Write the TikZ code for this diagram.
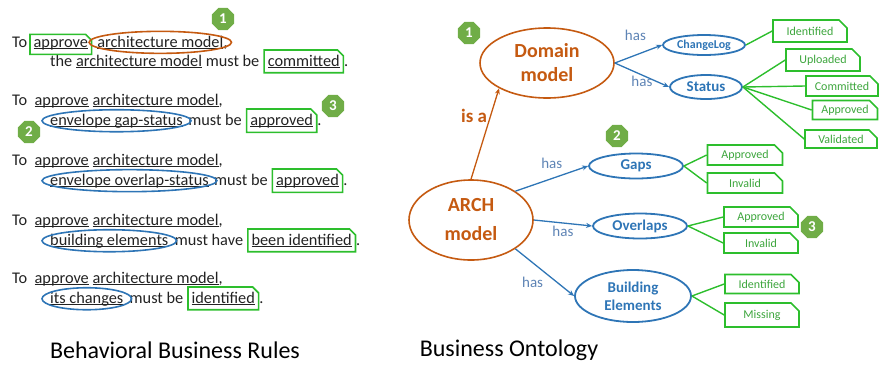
\documentclass[tikz,border=0pt]{standalone}
\usepackage{fontspec}
\setmainfont{Carlito}
\usetikzlibrary{positioning,shapes.geometric,shapes.misc,calc,fit,arrows.meta}

\newsavebox\uwordbox
\newcommand\uword[1]{\sbox\uwordbox{#1}\rlap{\rule[-2pt]{\wd\uwordbox}{0.6pt}}\usebox\uwordbox}

\definecolor{archorange}{HTML}{C55A11}
\definecolor{ontoblue}{HTML}{2E75B6}
\definecolor{hasblue}{HTML}{5E84B5}
\definecolor{tagline}{RGB}{45,190,45}
\definecolor{tagtext}{RGB}{60,165,60}
\definecolor{badgegreen}{HTML}{70AD47}
\definecolor{ruletext}{HTML}{222222}

\tikzset{
	word/.style={inner sep=0pt, text=ruletext, font=\fontsize{16.3}{19}\selectfont},
	tag/.style={
		chamfered rectangle,
		chamfered rectangle corners=north east,
		chamfered rectangle xsep=3pt,
		chamfered rectangle ysep=3pt,
		draw=tagline, line width=1.6pt, inner xsep=0.5pt, inner ysep=1.5pt
	},
	ring/.style={line width=1.6pt},
	dom/.style={
		ellipse, draw=archorange, line width=1.6pt, text=archorange,
		font=\bfseries\fontsize{20}{24}\selectfont, align=center, inner sep=0pt,
		minimum width=134, minimum height=70
	},
	concept/.style={
		ellipse, draw=ontoblue, line width=1.8pt, text=ontoblue,
		font=\bfseries\fontsize{15}{18}\selectfont, align=center, inner sep=0pt
	},
	state/.style={
		chamfered rectangle,
		chamfered rectangle corners=north east,
		chamfered rectangle xsep=4pt,
		chamfered rectangle ysep=4pt,
		draw=tagline, line width=1.6pt, text=tagtext,
		font=\fontsize{12}{14}\selectfont,
		minimum width=72, minimum height=20, inner sep=0pt
	},
	badge/.style={
		regular polygon, regular polygon sides=8, minimum size=24, inner sep=0pt,
		fill=badgegreen, text=white, font=\bfseries\fontsize{15}{15}\selectfont
	},
	hasarrow/.style={draw=ontoblue, line width=1.3pt, -{Stealth[length=6pt,width=5pt]}},
	haslabel/.style={text=hasblue, font=\fontsize{15}{18}\selectfont, inner sep=1pt},
	stateline/.style={draw=tagline, line width=1.4pt},
	caption/.style={text=black, font=\fontsize{24}{28}\selectfont}
}

\begin{document}
\begin{tikzpicture}[x=1pt, y=-1pt]
	\useasboundingbox (0,0) rectangle (880,365);

	% behavioral rules
	\node[word, anchor=base west] (r1to) at (12,47) {To};
	\node[word, base right=6pt of r1to] (r1act) {\uword{approve}};
	\node[word, base right=9pt of r1act] (r1obj) {\uword{architecture model}};
	\node[word, base right=0pt of r1obj] (r1cm) {,};
	\node[word, anchor=base west] (r1b) at (50,66) {the \uword{architecture model} must be};
	\node[word, base right=8pt of r1b] (r1st) {\uword{committed}};
	\node[word, base right=4pt of r1st] (r1dot) {.};

	\foreach \y in {105,165,225,283}
		\node[word, anchor=base west] (head\y) at (12,\y) {To\ \ \uword{approve} \uword{architecture model},};

	\node[word, anchor=base west] (r2obj) at (50,125) {\uword{envelope gap-status}};
	\node[word, base right=5pt of r2obj] (r2must) {must be};
	\node[word, base right=8pt of r2must] (r2st) {\uword{approved}};
	\node[word, base right=4pt of r2st] (r2dot) {.};

	\node[word, anchor=base west] (r3obj) at (50,185) {\uword{envelope overlap-status}};
	\node[word, base right=5pt of r3obj] (r3must) {must be};
	\node[word, base right=8pt of r3must] (r3st) {\uword{approved}};
	\node[word, base right=4pt of r3st] (r3dot) {.};

	\node[word, anchor=base west] (r4obj) at (50,245) {\uword{building elements}};
	\node[word, base right=6pt of r4obj] (r4must) {must have};
	\node[word, base right=8pt of r4must] (r4st) {\uword{been identified}};
	\node[word, base right=4pt of r4st] (r4dot) {.};

	\node[word, anchor=base west] (r5obj) at (50,303) {\uword{its changes}};
	\node[word, base right=6pt of r5obj] (r5must) {must be};
	\node[word, base right=8pt of r5must] (r5st) {\uword{identified}};
	\node[word, base right=4pt of r5st] (r5dot) {.};

	\foreach \w in {r1act,r1st,r2st,r3st,r4st,r5st}
		\node[tag, fit=(\w)] (\w-tag) {};
	\foreach \w/\c in {r1obj/archorange,r2obj/ontoblue,r3obj/ontoblue,r4obj/ontoblue,r5obj/ontoblue}
		\draw[ring, draw=\c] let \p1=($(\w.east)-(\w.west)$) in (\w.center) ellipse [x radius=0.5*\x1+8pt, y radius=11pt];

	\node[badge] (b1rule) at (223,19) {1};
	\node[badge] (b2rule) at (29,132) {2};
	\node[badge] (b3rule) at (333,106) {3};

	\node[caption] (rulescap) at (175,350) {Behavioral Business Rules};

	% business ontology
	\node[dom] (domain) at (547,63) {Domain\\model};
	\node[dom, minimum width=124, minimum height=80] (arch) at (471,220) {ARCH\\[5pt]model};

	\node[concept, minimum width=82, minimum height=20, font=\bfseries\fontsize{12}{14}\selectfont] (changelog) at (704,45) {ChangeLog};
	\node[concept, minimum width=72, minimum height=24] (status) at (706,87) {Status};
	\node[concept, minimum width=94, minimum height=25] (gaps) at (636,166) {Gaps};
	\node[concept, minimum width=94, minimum height=25] (overlaps) at (640,226) {Overlaps};
	\node[concept, minimum width=116, minimum height=52] (building) at (633,296) {Building\\Elements};

	\draw[hasarrow, draw=archorange] (arch.north) -- (domain.south west)
		node[pos=0.7, left=2pt, text=archorange, font=\bfseries\fontsize{19}{22}\selectfont, inner sep=1pt] (isa) {is a};
	\draw[hasarrow] (domain.east) -- (changelog.west) node[midway, above=12pt, xshift=-3pt, haslabel] (has1) {has};
	\draw[hasarrow] (domain.east) -- (status.west) node[midway, below=-1pt, haslabel] (has2) {has};
	\draw[hasarrow] (arch.north east) -- (gaps.west) node[midway, above=8pt, haslabel] (has3) {has};
	\draw[hasarrow] (arch.east) -- (overlaps.west) node[midway, below=1pt, haslabel] (has4) {has};
	\draw[hasarrow] (arch.south east) -- (building.west) node[midway, below left=3pt and 0pt, haslabel] (has5) {has};

	\node[state, minimum width=74, minimum height=22] (clident) at (810,31) {Identified};
	\node[state, minimum width=74, minimum height=22] (stupl) at (823,60) {Uploaded};
	\node[state] (stcom) at (842,86) {Committed};
	\node[state, minimum width=65, minimum height=19] (stapp) at (845,110) {Approved};
	\node[state, minimum height=18] (stval) at (841,139) {Validated};
	\node[state, minimum width=75] (gpapp) at (745,155) {Approved};
	\node[state, minimum width=75] (gpinv) at (745,183) {Invalid};
	\node[state, minimum width=74] (ovapp) at (761,217) {Approved};
	\node[state, minimum width=74] (ovinv) at (761,243) {Invalid};
	\node[state, minimum width=74, minimum height=19] (beide) at (762,284) {Identified};
	\node[state, minimum width=74, minimum height=24] (bemis) at (762,315) {Missing};

	\draw[stateline] (changelog.east) -- (clident.west);
	\foreach \t in {stupl,stcom,stapp,stval}
		\draw[stateline] (status.east) -- (\t.west);
	\foreach \t in {gpapp,gpinv}
		\draw[stateline] (gaps.east) -- (\t.west);
	\foreach \t in {ovapp,ovinv}
		\draw[stateline] (overlaps.east) -- (\t.west);
	\foreach \t in {beide,bemis}
		\draw[stateline] (building.east) -- (\t.west);

	\node[badge] (b1onto) at (469,33) {1};
	\node[badge] (b2onto) at (617,136) {2};
	\node[badge] (b3onto) at (812,227) {3};

	\node[caption] (ontocap) at (509,350) {Business Ontology};
\end{tikzpicture}
\end{document}
